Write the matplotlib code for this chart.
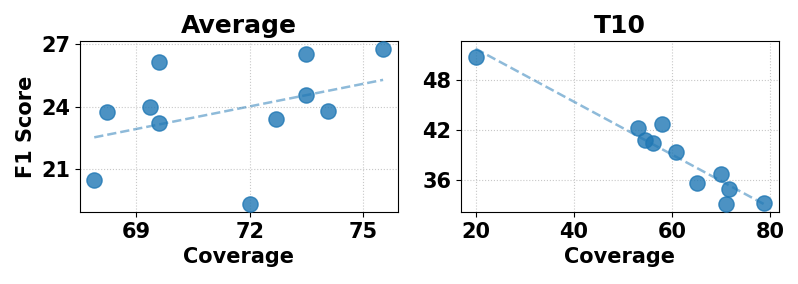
import numpy as np
import matplotlib
matplotlib.use("Agg")
import matplotlib.pyplot as plt

# Average panel
avg_cov = [67.89, 68.24, 69.59, 69.36, 69.61, 72.0, 72.71, 73.49, 73.49, 74.06, 75.53]
avg_f1 = [20.5, 23.76, 26.13, 24.0, 23.21, 19.33, 23.39, 26.5, 24.58, 23.78, 26.77]

# T10 panel
t10_cov = [20.0, 53.0, 57.95, 54.5, 56.2, 60.8, 65.0, 69.97, 71.53, 70.98, 78.8]
t10_f1 = [50.77, 42.28, 42.71, 40.81, 40.5, 39.43, 35.68, 36.71, 34.97, 33.15, 33.27]

panels = [("Average", avg_cov, avg_f1, [69, 72, 75], [21, 24, 27]),
          ("T10", t10_cov, t10_f1, [20, 40, 60, 80], [36, 42, 48])]

fig, axes = plt.subplots(1, 2, figsize=(7.98, 2.84), dpi=100)
for ax, (title, xs, ys, xt, yt) in zip(axes, panels):
    xs = np.array(xs); ys = np.array(ys)
    ax.scatter(xs, ys, s=120, color="#1f77b4", alpha=0.8, zorder=3)
    k, b = np.polyfit(xs, ys, 1)
    xl = np.array([xs.min(), xs.max()])
    ax.plot(xl, k * xl + b, "--", color="#1f77b4", alpha=0.5, lw=1.8, zorder=2)
    ax.set_title(title, fontsize=18, fontweight="bold")
    ax.set_xlabel("Coverage", fontsize=15, fontweight="bold")
    ax.set_xticks(xt); ax.set_yticks(yt)
    ax.tick_params(labelsize=15)
    for lab in ax.get_xticklabels() + ax.get_yticklabels():
        lab.set_fontweight("bold")
    ax.grid(True, linestyle=":", color="#c8c8c8", lw=0.8)
axes[0].set_ylabel("F1 Score", fontsize=15, fontweight="bold")

plt.subplots_adjust(left=0.100, right=0.976, bottom=0.253, top=0.856, wspace=0.2)
plt.savefig("out.png")
